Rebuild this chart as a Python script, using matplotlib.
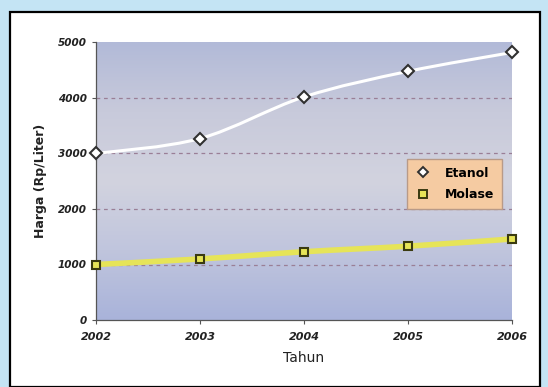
import numpy as np
import matplotlib
matplotlib.use("Agg")
import matplotlib.pyplot as plt
from matplotlib.path import Path
from matplotlib.patches import PathPatch, Rectangle
from matplotlib.lines import Line2D
from matplotlib.colors import LinearSegmentedColormap

years = [2002, 2003, 2004, 2005, 2006]
etanol = [3000, 3270, 4020, 4480, 4820]
molase = [1000, 1100, 1230, 1330, 1460]
y_ticks = [0, 1000, 2000, 3000, 4000, 5000]


def smooth_path(xs, ys, tension=1 / 6):
    """Catmull-Rom style smoothed line expressed as cubic Bezier segments."""
    xs = np.asarray(xs, float)
    ys = np.asarray(ys, float)
    n = len(xs)
    verts = [(xs[0], ys[0])]
    codes = [Path.MOVETO]
    for i in range(n - 1):
        x0, y0 = (xs[i - 1], ys[i - 1]) if i > 0 else (xs[i], ys[i])
        x1, y1 = xs[i], ys[i]
        x2, y2 = xs[i + 1], ys[i + 1]
        x3, y3 = (xs[i + 2], ys[i + 2]) if i + 2 < n else (xs[i + 1], ys[i + 1])
        c1 = (x1 + (x2 - x0) * tension, y1 + (y2 - y0) * tension)
        c2 = (x2 - (x3 - x1) * tension, y2 - (y3 - y1) * tension)
        verts += [c1, c2, (x2, y2)]
        codes += [Path.CURVE4] * 3
    return Path(verts, codes)


fig = plt.figure(figsize=(5.48, 3.87), dpi=100)
fig.patch.set_facecolor("#c4e4f4")

# white panel with black frame
panel = Rectangle((10 / 548, 0), 530 / 548, 1 - 11.5 / 387,
                  transform=fig.transFigure, facecolor="white",
                  edgecolor="black", linewidth=1.6, zorder=0)
fig.patches.append(panel)

ax = fig.add_axes([96 / 548, 1 - 320 / 387, 416 / 548, 277.5 / 387])
ax.set_zorder(2)
ax.set_xlim(2002, 2006)
ax.set_ylim(0, 5000)

# graded plot-area background
grad = LinearSegmentedColormap.from_list(
    "bg", ["#a9b3da", "#c0c5dd", "#d2d3df", "#c8cadb", "#b2bad8"])
ax.imshow(np.linspace(0, 1, 256).reshape(-1, 1), aspect="auto", cmap=grad,
          extent=(2002, 2006, 0, 5000), origin="lower", zorder=0)

for yv in y_ticks[1:-1]:
    ax.axhline(yv, color="#9a7f96", linestyle=(0, (3, 3)), linewidth=0.9, zorder=1)

# Molase: thick yellow line
ax.add_patch(PathPatch(smooth_path(years, molase), facecolor="none",
                       edgecolor="#e6e458", linewidth=4.0, zorder=2))
ax.plot(years, molase, linestyle="none", marker="s", markersize=6,
        markerfacecolor="#e6e458", markeredgecolor="#3a3a10",
        markeredgewidth=1.5, zorder=4, clip_on=False)

# Etanol: white smoothed line
ax.add_patch(PathPatch(smooth_path(years, etanol), facecolor="none",
                       edgecolor="white", linewidth=2.2, zorder=3))
ax.plot(years, etanol, linestyle="none", marker="D", markersize=6.5,
        markerfacecolor="white", markeredgecolor="#303030",
        markeredgewidth=1.5, zorder=5, clip_on=False)

ax.set_yticks(y_ticks)
ax.set_yticklabels([str(v) for v in y_ticks], fontsize=7.5,
                   fontweight="bold", fontstyle="italic", color="#222222")
ax.set_xticks(years)
ax.set_xticklabels([str(v) for v in years], fontsize=8,
                   fontweight="bold", fontstyle="italic", color="#222222")
ax.tick_params(axis="both", length=3, width=0.8, color="#555555")
ax.tick_params(axis="x", pad=6)
for side in ("top", "right"):
    ax.spines[side].set_visible(False)
for side in ("left", "bottom"):
    ax.spines[side].set_color("#555555")
    ax.spines[side].set_linewidth(0.9)

ax.set_ylabel("Harga (Rp/Liter)", fontsize=9, fontweight="bold", color="#222222",
              labelpad=8)
ax.set_xlabel("Tahun", fontsize=10, color="#222222", labelpad=6)

handles = [
    Line2D([], [], linestyle="none", marker="D", markersize=5.5,
           markerfacecolor="white", markeredgecolor="#303030", markeredgewidth=1.4),
    Line2D([], [], linestyle="none", marker="s", markersize=5.5,
           markerfacecolor="#e6e458", markeredgecolor="#3a3a10", markeredgewidth=1.4),
]
leg = ax.legend(handles, ["Etanol", "Molase"], loc="upper right",
                bbox_to_anchor=(0.975, 0.58), frameon=True, fancybox=False,
                prop={"size": 9, "weight": "bold"}, handletextpad=1.0,
                borderpad=0.6, labelspacing=0.7, handlelength=1.4,
                borderaxespad=0)
leg.get_frame().set_facecolor("#f5cba2")
leg.get_frame().set_edgecolor("#b89a88")
leg.get_frame().set_alpha(1)

fig.savefig("out.png", dpi=100, facecolor=fig.get_facecolor())
